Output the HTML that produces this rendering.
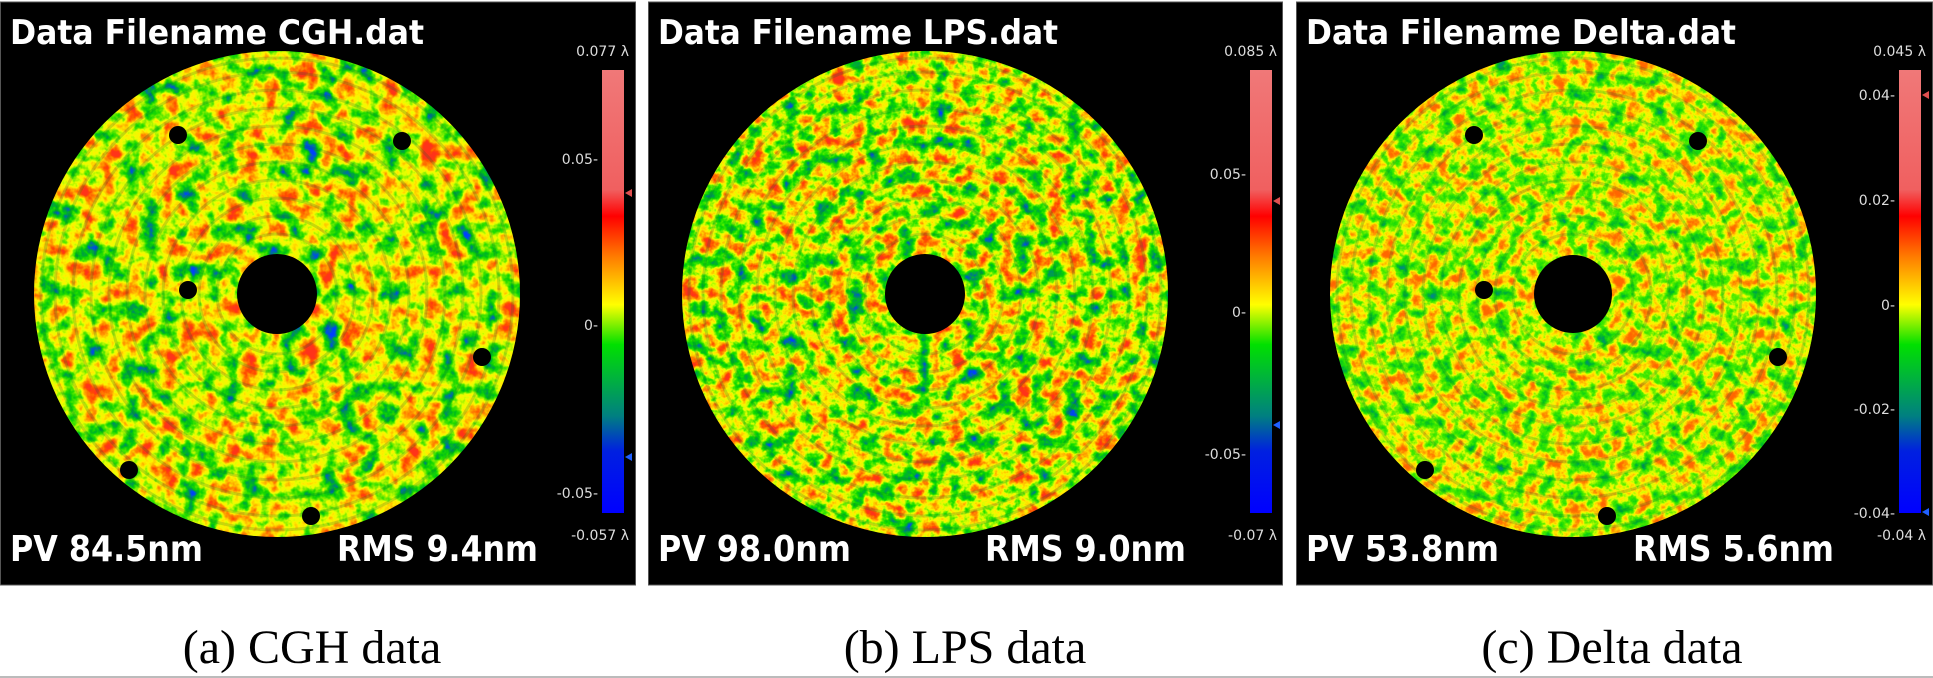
<!DOCTYPE html>
<html><head><meta charset="utf-8"><style>
html,body{margin:0;padding:0;background:#fff;width:1933px;height:678px;overflow:hidden}
svg{display:block}
.t{font-family:"DejaVu Sans","Liberation Sans",sans-serif;font-weight:bold;fill:#fff}
.l{font-family:"DejaVu Sans","Liberation Sans",sans-serif;font-size:14px;fill:#ddd}
.c{font-family:"Liberation Serif",serif;font-size:48px;fill:#000}
</style></head><body>
<svg width="1933" height="678" viewBox="0 0 1933 678" xmlns="http://www.w3.org/2000/svg">
<defs>
<filter id="fa" x="0" y="0" width="1" height="1" color-interpolation-filters="sRGB">
<feTurbulence type="fractalNoise" baseFrequency="0.05" numOctaves="4" seed="3"/>
<feColorMatrix type="matrix" values="1 0 0 0 0  1 0 0 0 0  1 0 0 0 0  0 0 0 0 1"/>
<feComponentTransfer>
<feFuncR type="table" tableValues="0 0 0 0 0 0 0 0.1 0.3 0.6 0.9 1 1 1 1 1 1 1 1 1 1"/>
<feFuncG type="table" tableValues="0.25 0.25 0.25 0.3 0.45 0.6 0.75 0.85 0.9 0.95 1 0.95 0.8 0.6 0.45 0.3 0.2 0.2 0.2 0.2 0.2"/>
<feFuncB type="table" tableValues="1 1 1 0.9 0.6 0.3 0.1 0 0 0 0 0 0 0 0 0 0.1 0.1 0.1 0.1 0.1"/>
</feComponentTransfer></filter>
<filter id="fb" x="0" y="0" width="1" height="1" color-interpolation-filters="sRGB">
<feTurbulence type="fractalNoise" baseFrequency="0.06" numOctaves="4" seed="11"/>
<feColorMatrix type="matrix" values="1 0 0 0 0  1 0 0 0 0  1 0 0 0 0  0 0 0 0 1"/>
<feComponentTransfer>
<feFuncR type="table" tableValues="0 0 0 0 0 0 0 0.05 0.2 0.5 0.85 1 1 1 1 1 1 1 1 1 1"/>
<feFuncG type="table" tableValues="0.25 0.25 0.25 0.35 0.5 0.65 0.75 0.85 0.9 0.95 1 0.95 0.8 0.6 0.45 0.3 0.2 0.2 0.2 0.2 0.2"/>
<feFuncB type="table" tableValues="1 1 1 0.8 0.5 0.25 0.1 0 0 0 0 0 0 0 0 0 0.1 0.1 0.1 0.1 0.1"/>
</feComponentTransfer></filter>
<filter id="fc" x="0" y="0" width="1" height="1" color-interpolation-filters="sRGB">
<feTurbulence type="fractalNoise" baseFrequency="0.07" numOctaves="4" seed="21"/>
<feColorMatrix type="matrix" values="1 0 0 0 0  1 0 0 0 0  1 0 0 0 0  0 0 0 0 1"/>
<feComponentTransfer>
<feFuncR type="table" tableValues="0 0 0 0 0 0.05 0.1 0.2 0.3 0.5 0.8 1 1 1 1 1 1 1 1 1 1"/>
<feFuncG type="table" tableValues="0.5 0.5 0.55 0.6 0.7 0.78 0.85 0.9 0.92 0.95 1 0.95 0.85 0.7 0.55 0.45 0.4 0.4 0.4 0.4 0.4"/>
<feFuncB type="table" tableValues="0.6 0.6 0.5 0.35 0.2 0.1 0.05 0 0 0 0 0 0 0 0 0 0 0 0 0 0"/>
</feComponentTransfer></filter>
<linearGradient id="cb" x1="0" y1="0" x2="0" y2="1">
<stop offset="0" stop-color="#f07878"/><stop offset="0.27" stop-color="#f06060"/>
<stop offset="0.33" stop-color="#ff0000"/><stop offset="0.42" stop-color="#ff7a00"/>
<stop offset="0.53" stop-color="#ffff00"/><stop offset="0.62" stop-color="#00e000"/>
<stop offset="0.78" stop-color="#008080"/><stop offset="0.86" stop-color="#0020e0"/>
<stop offset="1" stop-color="#0000ff"/></linearGradient>
<clipPath id="disk"><circle cx="277" cy="292" r="243"/></clipPath>
<g id="rings" fill="none" stroke="#063" stroke-opacity="0.2" stroke-width="3">
<circle cx="277" cy="292" r="60"/><circle cx="277" cy="292" r="78"/><circle cx="277" cy="292" r="96"/>
<circle cx="277" cy="292" r="114"/><circle cx="277" cy="292" r="132"/><circle cx="277" cy="292" r="150"/>
<circle cx="277" cy="292" r="168"/><circle cx="277" cy="292" r="186"/><circle cx="277" cy="292" r="204"/>
<circle cx="277" cy="292" r="222"/><circle cx="277" cy="292" r="236"/></g>
<g id="dots" fill="#000"><circle cx="178" cy="133" r="9"/><circle cx="402" cy="139" r="9"/><circle cx="188" cy="288" r="9"/><circle cx="482" cy="355" r="9"/><circle cx="129" cy="468" r="9"/><circle cx="311" cy="514" r="9"/></g>
</defs>
<rect x="0" y="0" width="1933" height="678" fill="#fff"/>
<line x1="0" y1="677" x2="1933" y2="677" stroke="#bbb" stroke-width="2"/>

<g transform="translate(0,2)">
<rect x="0.5" y="0" width="635" height="583" fill="#000" stroke="#555"/>
<g clip-path="url(#disk)"><rect x="34" y="49" width="486" height="486" filter="url(#fa)"/><use href="#rings"/></g>
<circle cx="277" cy="292" r="40" fill="#000"/><use href="#dots"/>
<text class="t" x="10" y="42" font-size="34" textLength="414" lengthAdjust="spacingAndGlyphs">Data Filename CGH.dat</text>
<text class="t" x="10" y="559" font-size="36" textLength="193" lengthAdjust="spacingAndGlyphs">PV 84.5nm</text>
<text class="t" x="337" y="559" font-size="36" textLength="201" lengthAdjust="spacingAndGlyphs">RMS 9.4nm</text>
<rect x="602" y="68" width="22" height="443" fill="url(#cb)"/>
<polygon points="625,191 632,187 632,195" fill="#e05050"/><polygon points="625,455 632,451 632,459" fill="#2060ff"/>
<text class="l" x="629" y="54" text-anchor="end">0.077 λ</text>
<text class="l" x="598" y="162" text-anchor="end">0.05-</text>
<text class="l" x="598" y="328" text-anchor="end">0-</text>
<text class="l" x="598" y="496" text-anchor="end">-0.05-</text>
<text class="l" x="629" y="538" text-anchor="end">-0.057 λ</text>
</g>

<g transform="translate(648,2)">
<rect x="0.5" y="0" width="634" height="583" fill="#000" stroke="#555"/>
<g clip-path="url(#disk)"><rect x="34" y="49" width="486" height="486" filter="url(#fb)"/><use href="#rings"/></g>
<circle cx="277" cy="292" r="40" fill="#000"/>
<text class="t" x="10" y="42" font-size="34" textLength="400" lengthAdjust="spacingAndGlyphs">Data Filename LPS.dat</text>
<text class="t" x="10" y="559" font-size="36" textLength="193" lengthAdjust="spacingAndGlyphs">PV 98.0nm</text>
<text class="t" x="337" y="559" font-size="36" textLength="201" lengthAdjust="spacingAndGlyphs">RMS 9.0nm</text>
<rect x="602" y="68" width="22" height="443" fill="url(#cb)"/>
<polygon points="625,199 632,195 632,203" fill="#e05050"/><polygon points="625,423 632,419 632,427" fill="#2060ff"/>
<text class="l" x="629" y="54" text-anchor="end">0.085 λ</text>
<text class="l" x="598" y="177" text-anchor="end">0.05-</text>
<text class="l" x="598" y="315" text-anchor="end">0-</text>
<text class="l" x="598" y="457" text-anchor="end">-0.05-</text>
<text class="l" x="629" y="538" text-anchor="end">-0.07 λ</text>
</g>

<g transform="translate(1296,2)">
<rect x="0.5" y="0" width="636" height="583" fill="#000" stroke="#555"/>
<g clip-path="url(#disk)"><rect x="34" y="49" width="486" height="486" filter="url(#fc)"/><use href="#rings"/></g>
<circle cx="277" cy="292" r="39" fill="#000"/><use href="#dots"/>
<text class="t" x="10" y="42" font-size="34" textLength="430" lengthAdjust="spacingAndGlyphs">Data Filename Delta.dat</text>
<text class="t" x="10" y="559" font-size="36" textLength="193" lengthAdjust="spacingAndGlyphs">PV 53.8nm</text>
<text class="t" x="337" y="559" font-size="36" textLength="201" lengthAdjust="spacingAndGlyphs">RMS 5.6nm</text>
<rect x="603" y="68" width="22" height="443" fill="url(#cb)"/>
<polygon points="626,93 633,89 633,97" fill="#e05050"/><polygon points="626,510 633,506 633,514" fill="#2060ff"/>
<text class="l" x="630" y="54" text-anchor="end">0.045 λ</text>
<text class="l" x="599" y="98" text-anchor="end">0.04-</text>
<text class="l" x="599" y="203" text-anchor="end">0.02-</text>
<text class="l" x="599" y="308" text-anchor="end">0-</text>
<text class="l" x="599" y="412" text-anchor="end">-0.02-</text>
<text class="l" x="599" y="516" text-anchor="end">-0.04-</text>
<text class="l" x="630" y="538" text-anchor="end">-0.04 λ</text>
</g>

<text class="c" x="312" y="663" text-anchor="middle">(a) CGH data</text>
<text class="c" x="965" y="663" text-anchor="middle">(b) LPS data</text>
<text class="c" x="1612" y="663" text-anchor="middle">(c) Delta data</text>
</svg>
</body></html>
